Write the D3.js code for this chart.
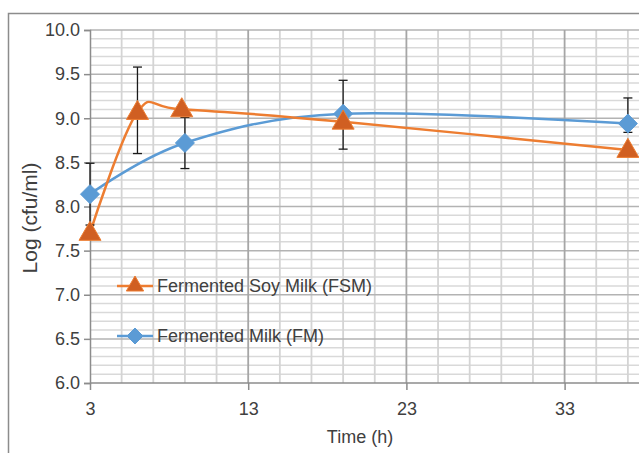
<!DOCTYPE html>
<html>
<head>
<meta charset="utf-8">
<script src="https://cdn.jsdelivr.net/npm/d3@7"></script>
<style>
  html, body { margin: 0; padding: 0; background: #fff; }
  svg { display: block; font-family: "Liberation Sans", Arial, sans-serif; }
</style>
</head>
<body>
<svg id="chart" width="639" height="453"></svg>
<script>
// ---- data ----
const fsmTime  = [3, 6, 8.8, 19, 37];
const fsmValue = [7.7, 9.07, 9.1, 8.96, 8.64];
const fmTime   = [3, 9, 19, 37];
const fmValue  = [8.14, 8.72, 9.05, 8.94];
// error bars (low, high)
const errTime  = [3, 6, 9, 19, 37];
const errLow   = [7.79, 8.60, 8.43, 8.65, 8.84];
const errHigh  = [8.49, 9.58, 9.01, 9.43, 9.23];
const yTicks   = [6.0, 6.5, 7.0, 7.5, 8.0, 8.5, 9.0, 9.5, 10.0];
const xTicks   = [3, 13, 23, 33];
const seriesNames = ["Fermented Soy Milk (FSM)", "Fermented Milk (FM)"];

const svg = d3.select("#chart");
const x = d3.scaleLinear().domain([3, 38]).range([90, 643.7]);
const y = d3.scaleLinear().domain([6, 10]).range([383, 30]);

const textColor = "#404040";

// outer chart border
svg.append("path")
  .attr("d", "M8.5,453 L8.5,13.5 L639,13.5")
  .attr("fill", "none").attr("stroke", "#8c8c8c").attr("stroke-width", 1.5);

// gridlines
const g = svg.append("g");
const minorY = d3.range(60, 101).map(v => v / 10).filter(v => Math.round(v * 10) % 5 !== 0);
const majorY = yTicks;
g.selectAll(".hminor").data(minorY).join("line")
  .attr("x1", x(3)).attr("x2", 639)
  .attr("y1", d => y(d)).attr("y2", d => y(d))
  .attr("stroke", "#d9d9d9").attr("stroke-width", 1.5);
const minorX = d3.range(5, 39, 2).filter(v => (v - 3) % 10 !== 0);
g.selectAll(".vminor").data(minorX).join("line")
  .attr("x1", d => x(d)).attr("x2", d => x(d))
  .attr("y1", y(10)).attr("y2", y(6))
  .attr("stroke", "#d4d4d4").attr("stroke-width", 1.8);
g.selectAll(".hmajor").data(majorY.filter(v => v > 6)).join("line")
  .attr("x1", x(3)).attr("x2", 639)
  .attr("y1", d => y(d)).attr("y2", d => y(d))
  .attr("stroke", "#b3b3b3").attr("stroke-width", 1.5);
g.selectAll(".vmajor").data(xTicks.filter(v => v > 3)).join("line")
  .attr("x1", d => x(d)).attr("x2", d => x(d))
  .attr("y1", y(10)).attr("y2", y(6))
  .attr("stroke", "#a6a6a6").attr("stroke-width", 1.8);

// axes
const yAxis = svg.append("g").attr("transform", `translate(${x(3)},0)`)
  .call(d3.axisLeft(y).tickValues(yTicks).tickFormat(d3.format(".1f")).tickSize(6).tickPadding(4));
const xAxis = svg.append("g").attr("transform", `translate(0,${y(6)})`)
  .call(d3.axisBottom(x).tickValues(xTicks).tickFormat(d3.format("d")).tickSize(7).tickPadding(12));
[yAxis, xAxis].forEach(a => {
  a.select(".domain").attr("stroke", "#8c8c8c").attr("stroke-width", 1.5);
  a.selectAll(".tick line").attr("stroke", "#8c8c8c").attr("stroke-width", 1.5);
  a.selectAll(".tick text").attr("fill", textColor).style("font-size", "18px")
    .style("font-family", "'Liberation Sans', Arial, sans-serif");
});
xAxis.select(".domain").attr("d", `M${x(3)},0H639`);

// axis titles
svg.append("text")
  .attr("x", 360).attr("y", 443)
  .attr("text-anchor", "middle").attr("fill", textColor)
  .style("font-size", "18px").text("Time (h)");
svg.append("text")
  .attr("transform", "translate(37,218) rotate(-90)")
  .attr("text-anchor", "middle").attr("fill", textColor)
  .style("font-size", "21px").text("Log (cfu/ml)");

// lines
const line = d3.line().curve(d3.curveCatmullRom.alpha(0)).x(d => x(d[0])).y(d => y(d[1]));
const fsm = fsmTime.map((t, i) => [t, fsmValue[i]]);
const fm = fmTime.map((t, i) => [t, fmValue[i]]);
const orange = "#ed7d31", orangeFill = "#d05f22", blue = "#5b9bd5";

svg.append("path").datum(fm).attr("d", line)
  .attr("fill", "none").attr("stroke", blue).attr("stroke-width", 2.5);
svg.append("path").datum(fsm).attr("d", line)
  .attr("fill", "none").attr("stroke", orange).attr("stroke-width", 2.5);

// error bars
const eb = svg.append("g").attr("stroke", "#1a1a1a").attr("stroke-width", 1.3);
errTime.forEach((t, i) => {
  const cx = x(t);
  eb.append("line").attr("x1", cx).attr("x2", cx).attr("y1", y(errLow[i])).attr("y2", y(errHigh[i]));
  eb.append("line").attr("x1", cx - 4.5).attr("x2", cx + 4.5).attr("y1", y(errLow[i])).attr("y2", y(errLow[i]));
  eb.append("line").attr("x1", cx - 4.5).attr("x2", cx + 4.5).attr("y1", y(errHigh[i])).attr("y2", y(errHigh[i]));
});

// markers
const tri = d3.symbol().type(d3.symbolTriangle).size(210);
const dia = (s) => `M0,${-s}L${s},0L0,${s}L${-s},0Z`;
svg.selectAll(".fmMark").data(fm).join("path")
  .attr("transform", d => `translate(${x(d[0])},${y(d[1])})`)
  .attr("d", dia(9.5)).attr("fill", blue).attr("stroke", blue).attr("stroke-width", 1);
svg.selectAll(".fsmMark").data(fsm).join("path")
  .attr("transform", d => `translate(${x(d[0])},${y(d[1]) + 1})`)
  .attr("d", tri).attr("fill", orangeFill).attr("stroke", orange).attr("stroke-width", 1);

// legend
const leg = [
  { name: seriesNames[0], color: orange, fill: orangeFill, shape: "tri", ly: 286 },
  { name: seriesNames[1], color: blue, fill: blue, shape: "dia", ly: 336 }
];
leg.forEach(l => {
  svg.append("line").attr("x1", 117).attr("x2", 153).attr("y1", l.ly).attr("y2", l.ly)
    .attr("stroke", l.color).attr("stroke-width", 2.5);
  svg.append("path").attr("transform", `translate(135,${l.ly})`)
    .attr("d", l.shape === "tri" ? d3.symbol().type(d3.symbolTriangle).size(130)() : dia(8))
    .attr("fill", l.fill).attr("stroke", l.color).attr("stroke-width", 1);
  svg.append("text").attr("x", 157).attr("y", l.ly).attr("dy", "0.36em")
    .attr("fill", textColor).style("font-size", "18px").text(l.name);
});
</script>
</body>
</html>
